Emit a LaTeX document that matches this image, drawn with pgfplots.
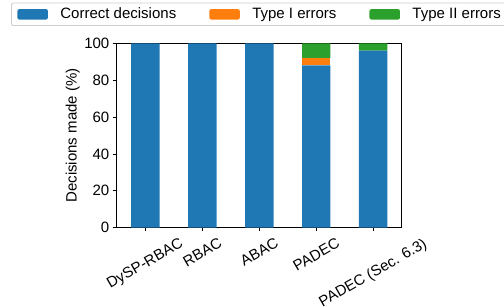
\documentclass[border=0pt]{standalone}
\usepackage{fontspec}
\setmainfont{Liberation Sans}
\usepackage{graphicx}
\usepackage{pgfplots}
\pgfplotsset{compat=1.18}
\definecolor{tabblue}{HTML}{1F77B4}
\definecolor{taborange}{HTML}{FF7F0E}
\definecolor{tabgreen}{HTML}{2CA02C}
\definecolor{legframe}{HTML}{CCCCCC}
\begin{document}
\begin{tikzpicture}[x=1bp,y=1bp]
\useasboundingbox (0,0) rectangle (504,306);
\begin{axis}[
  at={(116bp,78.3bp)}, anchor=south west,
  scale only axis, width=285.7bp, height=184.4bp,
  ybar stacked, bar width=0.5,
  xmin=-0.515, xmax=4.5, ymin=0, ymax=100,
  xtick={0,1,2,3,4},
  xticklabels={\rotatebox{30}{DySP-RBAC},\rotatebox{30}{RBAC},\rotatebox{30}{ABAC},\rotatebox{30}{PADEC},\rotatebox{30}{PADEC (Sec. 6.3)}},
  ytick={0,20,40,60,80,100},
  xtick pos=bottom, ytick pos=left,
  tick align=outside, major tick length=3.5bp,
  tick style={black, line width=0.8bp},
  axis line style={line width=0.8bp},
  font=\fontsize{15bp}{18bp}\selectfont,
  /pgf/number format/assume math mode=true,
  xticklabel style={anchor=north, inner sep=0pt, yshift=-6bp},
  yticklabel style={anchor=east, inner sep=0pt, xshift=-3bp},
  ylabel={Decisions made (\%)},
  ylabel style={at={(axis description cs:-0.1516,0.5)}, anchor=center},
  legend columns=3,
  legend cell align=left,
  legend style={at={(-0.3675,1.2202)}, anchor=north west,
    draw=legframe, rounded corners=2bp, line width=0.8bp,
    inner xsep=6bp, inner ysep=4bp,
    font=\fontsize{15bp}{18bp}\selectfont,
    nodes={inner sep=0pt, text height=11bp, text depth=3.5bp},
    /tikz/every odd column/.append style={column sep=12.5bp},
    /tikz/every even column/.append style={column sep=33bp}},
]
\addplot[fill=tabblue, draw=none,
  legend image code/.code={\fill[tabblue] (0bp,-5.25bp) rectangle (30.5bp,5.25bp);}]
  coordinates {(0,100) (1,100) (2,100) (3,88) (4,96)};
\addlegendentry{Correct decisions}
\addplot[fill=taborange, draw=none,
  legend image code/.code={\fill[taborange] (0bp,-5.25bp) rectangle (30.5bp,5.25bp);}]
  coordinates {(0,0) (1,0) (2,0) (3,4) (4,0)};
\addlegendentry{Type I errors}
\addplot[fill=tabgreen, draw=none,
  legend image code/.code={\fill[tabgreen] (0bp,-5.25bp) rectangle (30.5bp,5.25bp);}]
  coordinates {(0,0) (1,0) (2,0) (3,8) (4,4)};
\addlegendentry{Type II errors}
\end{axis}
\end{tikzpicture}
\end{document}
